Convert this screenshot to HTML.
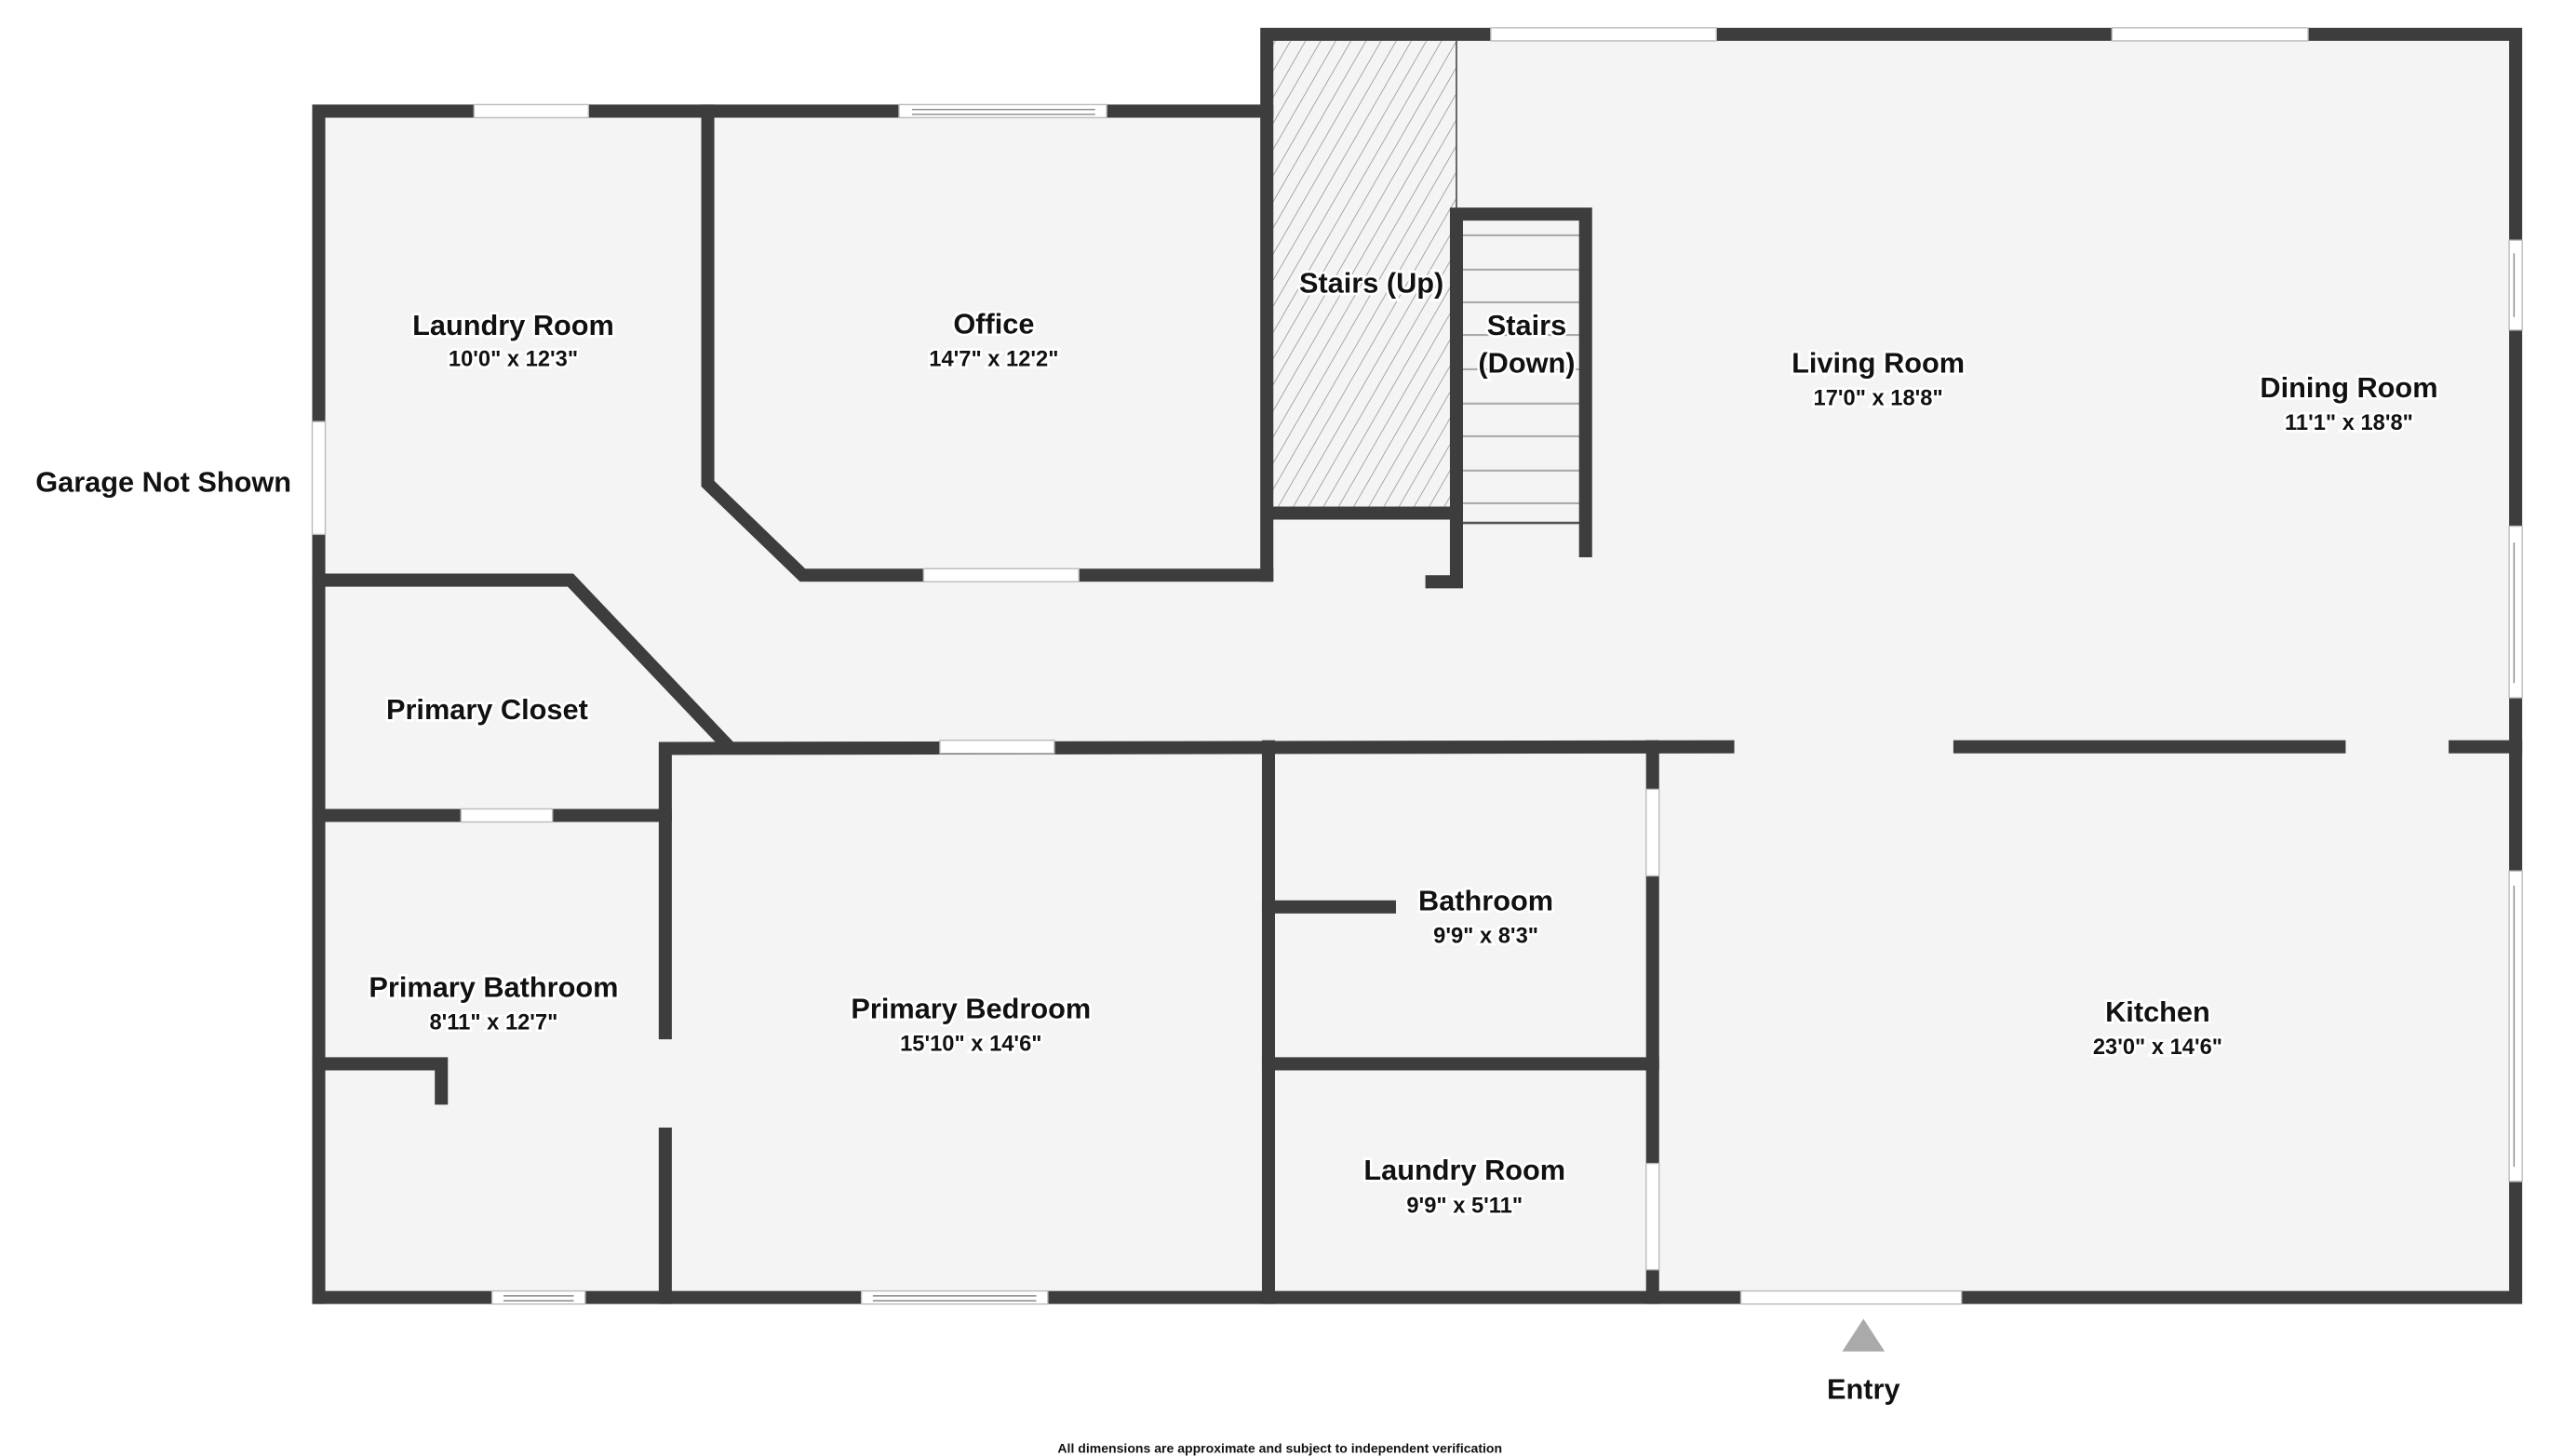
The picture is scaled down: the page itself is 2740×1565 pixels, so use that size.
<!DOCTYPE html>
<html><head><meta charset="utf-8"><style>
html,body{margin:0;padding:0;background:#fff;}
svg{display:block;}
text{font-family:"Liberation Sans",sans-serif;font-weight:bold;fill:#111;text-anchor:middle;paint-order:stroke;stroke:#fff;stroke-width:3px;}
.d{font-size:13.5px;font-weight:bold;}
.t{font-size:17.5px;}
</style></head><body>
<svg width="2740" height="1565" viewBox="0 0 1560 891" preserveAspectRatio="none" xmlns="http://www.w3.org/2000/svg">
<defs>
<pattern id="h" patternUnits="userSpaceOnUse" width="8" height="8" patternTransform="rotate(30)">
<line x1="0" y1="0" x2="0" y2="8" stroke="#888" stroke-width="0.8"/>
</pattern>
</defs>
<rect width="1560" height="891" fill="#fff"/>
<polygon points="195,68 778,68 778,21 1539,21 1539,794 195,794" fill="#f4f4f4"/>
<rect x="778" y="25" width="113" height="289" fill="url(#h)"/>
<line x1="891" y1="25" x2="891" y2="131" stroke="#555" stroke-width="1"/>
<g stroke="#aaa" stroke-width="1.2">
<line x1="894" y1="144" x2="970" y2="144"/><line x1="894" y1="165" x2="970" y2="165"/>
<line x1="894" y1="185" x2="970" y2="185"/><line x1="894" y1="205" x2="970" y2="205"/>
<line x1="894" y1="226" x2="970" y2="226"/><line x1="894" y1="247" x2="970" y2="247"/>
<line x1="894" y1="267" x2="970" y2="267"/><line x1="894" y1="288" x2="970" y2="288"/>
<line x1="894" y1="308" x2="970" y2="308"/>
</g>
<line x1="894" y1="320" x2="970" y2="320" stroke="#555" stroke-width="1.5"/>
<g stroke="#3d3d3d" stroke-width="8" fill="none" stroke-linecap="square" stroke-linejoin="miter">
<polyline points="195,794 195,68 775,68"/>
<polyline points="775,352 775,21 1539,21 1539,794 195,794"/>
<polyline points="433,68 433,296 491,352 775,352"/>
<line x1="778" y1="314" x2="891" y2="314"/>
<polyline points="876,356 891,356 891,131 970,131 970,337"/>
<polyline points="195,355 349,355 445,456"/>
<polyline points="407,632 407,458 1057,457"/>
<line x1="1199" y1="457" x2="1431" y2="457"/>
<line x1="1502" y1="457" x2="1539" y2="457"/>
<line x1="407" y1="694" x2="407" y2="794"/>
<line x1="195" y1="499" x2="407" y2="499"/>
<polyline points="195,651 270,651 270,672"/>
<line x1="776" y1="457" x2="776" y2="794"/>
<line x1="776" y1="555" x2="850" y2="555"/>
<line x1="776" y1="651" x2="1011" y2="651"/>
<line x1="1011" y1="457" x2="1011" y2="794"/>
</g>
<g fill="#fff" stroke="#bbb" stroke-width="0.8">
<rect x="290" y="64" width="70" height="8"/>
<rect x="550" y="64" width="127" height="8"/>
<rect x="565" y="348" width="95" height="8"/>
<rect x="912" y="17" width="138" height="8"/>
<rect x="1292" y="17" width="120" height="8"/>
<rect x="1535" y="147" width="8" height="55"/>
<rect x="1535" y="322" width="8" height="105"/>
<rect x="1535" y="533" width="8" height="190"/>
<rect x="191" y="258" width="8" height="69"/>
<rect x="282" y="495" width="56" height="8"/>
<rect x="575" y="453" width="70" height="8"/>
<rect x="301" y="790" width="57" height="8"/>
<rect x="527" y="790" width="114" height="8"/>
<rect x="1065" y="790" width="135" height="8"/>
<rect x="1007" y="483" width="8" height="53"/>
<rect x="1007" y="712" width="8" height="65"/>
</g>
<g stroke="#888" stroke-width="0.8">
<line x1="558" y1="67" x2="670" y2="67"/><line x1="558" y1="70" x2="670" y2="70"/>
<line x1="308" y1="793" x2="351" y2="793"/><line x1="308" y1="796" x2="351" y2="796"/>
<line x1="534" y1="793" x2="634" y2="793"/><line x1="534" y1="796" x2="634" y2="796"/>
<line x1="1538" y1="155" x2="1538" y2="194"/><line x1="1538" y1="332" x2="1538" y2="418"/>
<line x1="1538" y1="542" x2="1538" y2="714"/>
</g>
<polygon points="1140,807 1127,827 1153,827" fill="#aaa"/>
<text class="t" x="314" y="205">Laundry Room</text><text class="d" x="314" y="224">10'0" x 12'3"</text>
<text class="t" x="608" y="204">Office</text><text class="d" x="608" y="224">14'7" x 12'2"</text>
<text class="t" x="839" y="179">Stairs (Up)</text>
<text class="t" x="934" y="205">Stairs</text><text class="t" x="934" y="228">(Down)</text>
<text class="t" x="1149" y="228">Living Room</text><text class="d" x="1149" y="248">17'0" x 18'8"</text>
<text class="t" x="1437" y="243">Dining Room</text><text class="d" x="1437" y="263">11'1" x 18'8"</text>
<text class="t" x="100" y="301">Garage Not Shown</text>
<text class="t" x="298" y="440">Primary Closet</text>
<text class="t" x="302" y="610">Primary Bathroom</text><text class="d" x="302" y="630">8'11" x 12'7"</text>
<text class="t" x="594" y="623">Primary Bedroom</text><text class="d" x="594" y="643">15'10" x 14'6"</text>
<text class="t" x="909" y="557">Bathroom</text><text class="d" x="909" y="577">9'9" x 8'3"</text>
<text class="t" x="896" y="722">Laundry Room</text><text class="d" x="896" y="742">9'9" x 5'11"</text>
<text class="t" x="1320" y="625">Kitchen</text><text class="d" x="1320" y="645">23'0" x 14'6"</text>
<text class="t" x="1140" y="856">Entry</text>
<text x="783" y="889" style="font-size:8px;stroke:none">All dimensions are approximate and subject to independent verification</text>
</svg>
</body></html>
